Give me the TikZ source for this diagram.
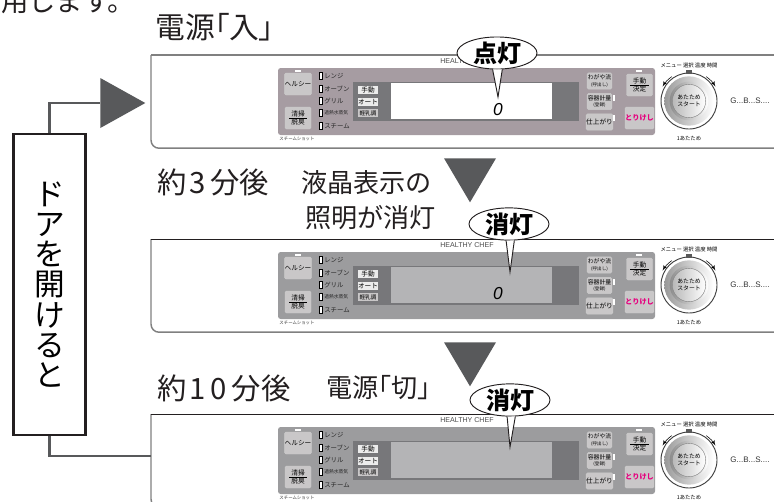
\documentclass[tikz,border=0pt]{standalone}
\usepackage{fontspec}
\setmainfont{Noto Sans CJK JP}
\newfontfamily\propfont{Noto Sans CJK JP}[RawFeature=+palt]
\newfontfamily\latinfont{Liberation Sans}
\usetikzlibrary{shapes,arrows,calc}
\definecolor{tipgray}{HTML}{58595B}
\definecolor{inkblack}{HTML}{231F20}
\definecolor{frameline}{HTML}{808080}
\definecolor{keygray}{HTML}{C9C7C8}
\definecolor{bandgray}{HTML}{77777A}
\definecolor{bodymauve}{HTML}{A69CA2}
\definecolor{bodygray}{HTML}{9C9C9E}
\definecolor{dimscreen}{HTML}{B4B4B6}
\definecolor{pinkkey}{HTML}{E6007E}
\tikzstyle{headline} = [inner sep=0, text=inkblack, font=\fontsize{22}{24}\selectfont]
\tikzstyle{propline} = [headline, font=\fontsize{22.3}{24}\selectfont\propfont]
\tikzstyle{noteline} = [headline, font=\fontsize{19.6}{21}\selectfont\propfont]
\tikzstyle{doorbox} = [rectangle, draw=inkblack, line width=1.7pt, fill=white, inner sep=0,
    minimum width=54pt, minimum height=226pt, align=center, font=\fontsize{23}{22.6}\selectfont]
\tikzstyle{pointer} = [isosceles triangle, isosceles triangle stretches, fill=tipgray, inner sep=0]
\tikzstyle{line} = [draw=tipgray, line width=1.8pt]
\tikzstyle{bubble} = [ellipse, draw=inkblack, line width=.7pt, fill=white, inner sep=0,
    minimum width=60pt, minimum height=21.5pt, font=\bfseries\fontsize{18}{20}\selectfont]
\tikzstyle{tail} = [draw=inkblack, line width=.7pt, fill=white]
\tikzstyle{keycap} = [rectangle, rounded corners=1pt, fill=keygray, draw=white!60!gray, line width=.3pt,
    inner sep=0, align=center, font=\fontsize{5}{5.6}\selectfont]
\tikzstyle{bigkey} = [keycap, minimum width=19.5pt, minimum height=16.5pt]
\tikzstyle{sidekey} = [keycap, minimum width=18.5pt, minimum height=12.2pt]
\tikzstyle{modekey} = [keycap, rounded corners=0pt, fill=white!85!gray, draw=none, minimum width=15pt, minimum height=6pt]
\tikzstyle{lamp} = [rectangle, fill=white, inner sep=0, minimum width=5pt, minimum height=2pt]
\tikzstyle{modetag} = [anchor=west, inner sep=0, text=black!85, font=\fontsize{4.8}{5}\selectfont]
\tikzstyle{fineprint} = [inner sep=0, text=black!80, font=\fontsize{4}{5}\selectfont]

% one control strip: name suffix, y offset, top line, body colour, screen colour, digit
\newcommand{\cooker}[6]{
  \begin{scope}[shift={(0,#2)}]
    \node [rectangle, inner sep=0, anchor=north west, minimum width=700pt, minimum height=69.5pt] (frame#1) at (151,55) {};
    \draw [frameline, line width=1.1pt] (frame#1.north west)
        [rounded corners=6pt] -- (frame#1.south west) -- (frame#1.south east);
    \draw [#3] (frame#1.north west) -- (frame#1.north east);
    \fill [#4, rounded corners=2pt] (278,68) rectangle (655,135);
    \fill [bandgray] (353,82) rectangle (579,121);
    \fill [#5] (391,83) rectangle (552,119);
    \node [inner sep=0, text=black!70, font=\latinfont\fontsize{5.3}{6}\selectfont] (brand#1) at (467,61) {HEALTHY CHEF};
    \node [inner sep=0, font=\latinfont\itshape\fontsize{13}{14}\selectfont] (digit#1) at (498,110) {#6};
    % left keys
    \node [lamp] (lamp_l#1) at (298,71) {};
    \node [bigkey] (health#1) at (298,84) {ヘルシー};
    \node [bigkey] (clean#1) at (298,118) {清掃\\[.4pt]脱臭};
    \draw [black, line width=.3pt] (289,118) -- (307,118);
    \foreach \y/\t in {76/レンジ,89/オーブン,101/グリル,113/{\fontsize{3.6}{4}\selectfont 過熱水蒸気},126/スチーム} {
      \fill [white, draw=black, line width=.3pt] (319.5,\y-3.5) rectangle (322,\y+3.5);
      \node [modetag] at (324,\y) {\t};
    }
    \node [modekey] (manual#1) at (368,90) {手動};
    \node [modekey] (auto#1) at (368,102) {オート};
    \node [modekey, fill=keygray, font=\fontsize{4.2}{5}\selectfont] (milk#1) at (368,113) {軽乳調};
    % right keys
    \node [sidekey, font=\fontsize{4.4}{5}\selectfont] (mine#1) at (599.5,81) {わがや流\\{\fontsize{3.4}{4}\selectfont (呼出し)}};
    \node [sidekey, font=\fontsize{4.4}{5}\selectfont] (cup#1) at (599.5,101.5) {容器計量\\{\fontsize{3.4}{4}\selectfont (登録)}};
    \node [sidekey] (finish#1) at (599.5,122) {仕上がり};
    \node [lamp, minimum width=2pt, minimum height=5pt] at (614,98) {};
    \node [lamp, minimum width=2pt, minimum height=5pt] at (614,118) {};
    \node [lamp] (lamp_r#1) at (639,71) {};
    \node [bigkey] (set#1) at (639.5,85) {手動\\[.4pt]決定};
    \draw [black, line width=.3pt] (630,85) -- (649,85);
    \node [bigkey, text=pinkkey, font=\bfseries\fontsize{5.4}{6}\selectfont] (cancel#1) at (639.5,118) {とりけし};
    % dial
    \node [circle, draw=black!75, line width=.7pt, fill=white, minimum size=42pt, inner sep=0] (dial#1) at (689,101) {};
    \node [circle, shade, shading angle=135, left color=gray!80, right color=white, minimum size=37pt, inner sep=0] at (dial#1) {};
    \node [circle, shade, shading angle=-45, left color=gray!90, right color=white, minimum size=29pt, inner sep=0] at (dial#1) {};
    \node [circle, shade, shading angle=135, left color=gray!55, right color=white, draw=gray, line width=.3pt,
        minimum size=25pt, inner sep=0, align=center, font=\fontsize{4.4}{5.2}\selectfont] at (dial#1) {あたため\\スタート};
    \fill [gray!70!black] (685.5,69.5) rectangle (691.5,74);
    \draw [black, line width=.4pt, -latex'] (dial#1.125) ++(-1,-1) arc[start angle=-125, end angle=-150, radius=31];
    \draw [black, line width=.4pt, -latex'] (dial#1.55) ++(1,-1) arc[start angle=-55, end angle=-30, radius=31];
    \node [fineprint, text=black] at (689,65) {メニュー 選択 温度 時間};
    \node [fineprint, text=black] at (689,139) {1あたため};
    \node [fineprint, text=black!80, font=\latinfont\fontsize{6}{6}\selectfont] at (750,101) {G...B...S....};
    \node [fineprint, font=\fontsize{3.3}{4}\selectfont] at (297,139) {スチームショット};
  \end{scope}
}

\begin{document}
\begin{tikzpicture}[x=.75pt, y=-.75pt, node distance=26pt]
    \useasboundingbox (0,0) rectangle (774,501);
    % Place panels
    \cooker{_a}{0}{frameline, line width=1.6pt}{bodymauve}{white}{0}
    \cooker{_b}{184}{inkblack, line width=.7pt}{bodygray}{dimscreen}{0}
    \cooker{_c}{359}{inkblack, line width=.7pt}{bodygray}{dimscreen}{}
    % Place texts
    \node [headline, anchor=west, font=\fontsize{20.5}{22}\selectfont] (lead) at (1,2) {用します。};
    \node [propline, anchor=west] (state_a) at (155,27) {電源「入」};
    \node [headline, anchor=west] (state_b) at (157,182) {約\kern2.5pt 3\kern3pt 分後};
    \node [noteline, anchor=west] (note_b) at (301,183) {液晶表示の};
    \node [noteline, below of=note_b, xshift=3.5pt] (note_c) {照明が消灯};
    \node [headline, anchor=west] (state_c) at (157,388) {約\kern2.5pt 1\kern3.5pt 0\kern3.5pt 分後};
    \node [noteline, anchor=west] (note_d) at (326,388) {電源「切」};
    \node [doorbox] (door) at (49.5,284.5) {ド\\ア\\を\\開\\け\\る\\と};
    % Place pointers
    \node [pointer, anchor=apex, minimum width=37.5pt, minimum height=33.75pt] (tip_a) at (146,103) {};
    \node [pointer, shape border rotate=-90, anchor=apex, minimum width=39pt, minimum height=33pt] (tip_b) at (470,203) {};
    \node [pointer, shape border rotate=-90, anchor=apex, minimum width=39pt, minimum height=33pt] (tip_c) at (470,387) {};
    % Place bubbles
    \node [bubble] (lit_a) at (497,53) {\phantom{点灯}};
    \node [bubble] (lit_b) at (509,224) {\phantom{消灯}};
    \node [bubble] (lit_c) at (510,400) {\phantom{消灯}};
    \coordinate (lit_a_end) at (498,97);
    \coordinate (lit_b_end) at (510,272);
    \coordinate (lit_c_end) at (510,447);
    \path [tail] (lit_a.-105) -- (lit_a_end) -- (lit_a.-72);
    \path [tail] (lit_b.-100) -- (lit_b_end) -- (lit_b.-72);
    \path [tail] (lit_c.-100) -- (lit_c_end) -- (lit_c.-72);
    \node [inner sep=0, font=\bfseries\fontsize{18}{20}\selectfont] at (lit_a) {点灯};
    \node [inner sep=0, font=\bfseries\fontsize{18}{20}\selectfont] at (lit_b) {消灯};
    \node [inner sep=0, font=\bfseries\fontsize{18}{20}\selectfont] at (lit_c) {消灯};
    % Draw edges
    \coordinate (door_end) at (151,456);
    \path [line] (door.north) |- (tip_a.west);
    \path [line] (door.south) |- (door_end);
\end{tikzpicture}
\end{document}
